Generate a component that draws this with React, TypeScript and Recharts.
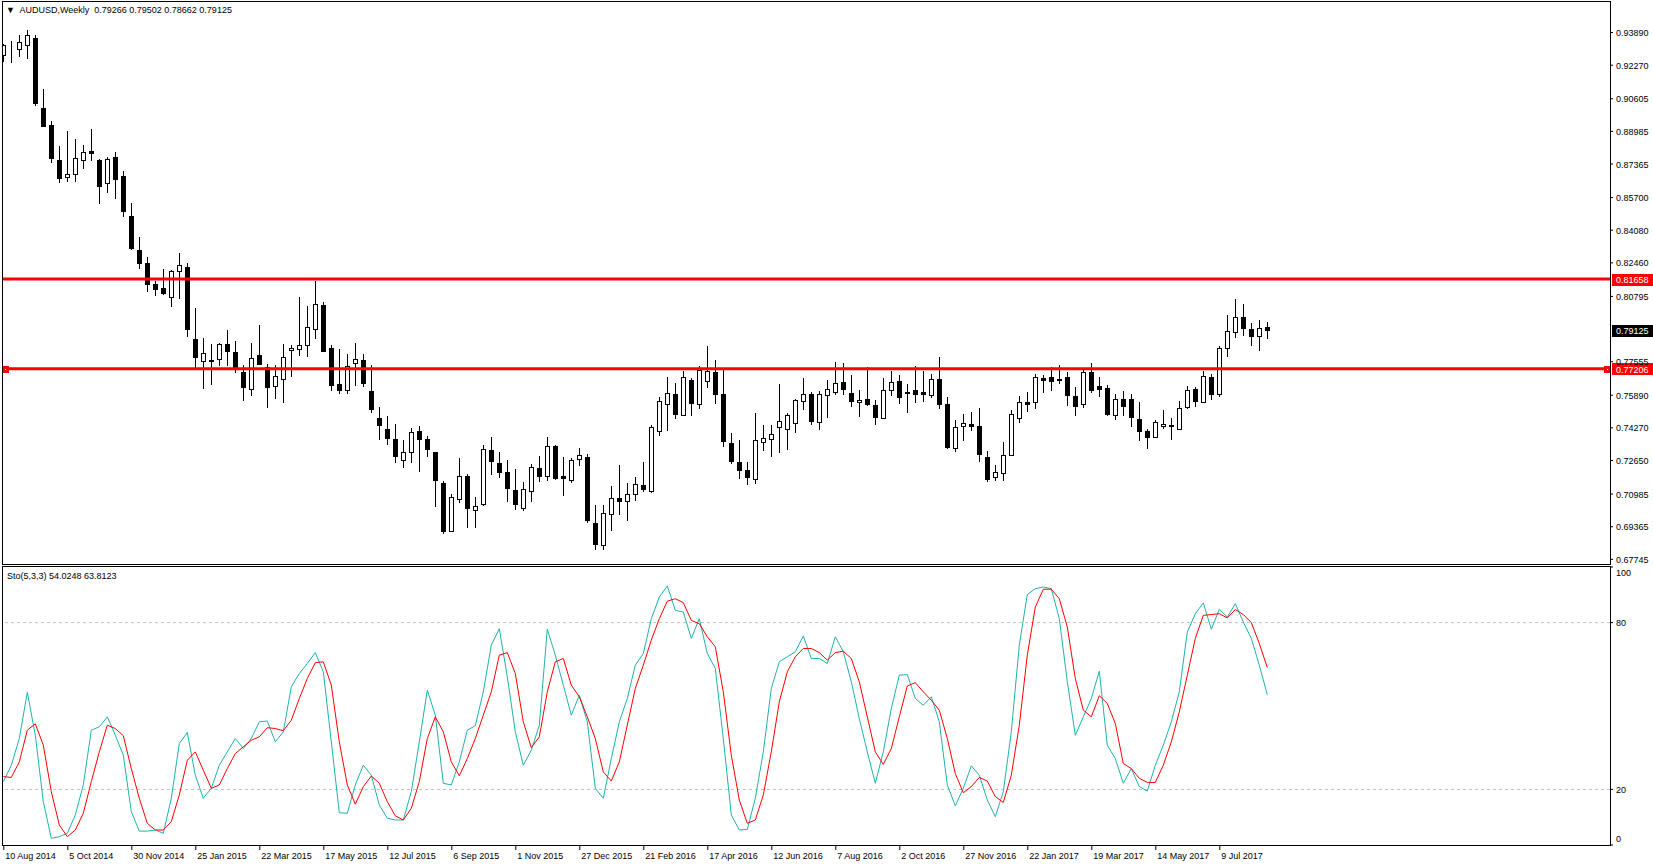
import { Bar, ComposedChart, Line, LineChart, ReferenceLine, XAxis, YAxis } from 'recharts';

// AUDUSD weekly candles (one entry per week from 10 Aug 2014)
const opens = [
  0.9277, 0.9313, 0.9305, 0.9325, 0.9364, 0.9012, 0.8928, 0.8754, 0.867, 0.8685,
  0.8754, 0.8799, 0.8754, 0.8644, 0.8771, 0.8677, 0.8477, 0.8308, 0.8244, 0.814,
  0.812, 0.8075, 0.8204, 0.8224, 0.7867, 0.7761, 0.7761, 0.7767, 0.7842, 0.7802,
  0.7703, 0.7619, 0.7787, 0.7731, 0.7637, 0.7668, 0.7812, 0.7817, 0.7837, 0.7916,
  0.8035, 0.7822, 0.7643, 0.7617, 0.7748, 0.7762, 0.7609, 0.7475, 0.742, 0.7371,
  0.7267, 0.7306, 0.741, 0.7371, 0.7306, 0.7152, 0.6913, 0.7076, 0.719, 0.7018,
  0.7048, 0.7316, 0.7252, 0.7207, 0.7118, 0.7028, 0.7116, 0.7228, 0.7187, 0.7336,
  0.7189, 0.7167, 0.7271, 0.7283, 0.6956, 0.6845, 0.7, 0.7078, 0.7066, 0.7098,
  0.7144, 0.7114, 0.7409, 0.7544, 0.7594, 0.7493, 0.7663, 0.7544, 0.7658, 0.7704,
  0.7595, 0.7353, 0.726, 0.7218, 0.7172, 0.7359, 0.7371, 0.743, 0.742, 0.745,
  0.7559, 0.7594, 0.7455, 0.7589, 0.7605, 0.7653, 0.7599, 0.7554, 0.7569, 0.7539,
  0.7478, 0.7614, 0.7658, 0.7604, 0.7615, 0.7604, 0.7592, 0.767, 0.7546, 0.7326,
  0.7435, 0.7447, 0.7437, 0.7281, 0.7182, 0.7202, 0.729, 0.7478, 0.7556, 0.7554,
  0.7675, 0.7678, 0.767, 0.768, 0.7584, 0.7544, 0.7703, 0.7634, 0.7624, 0.749,
  0.7569, 0.7569, 0.747, 0.7412, 0.7384, 0.7435, 0.7442, 0.742, 0.7529, 0.762,
  0.7557, 0.7681, 0.7597, 0.7822, 0.7901, 0.7979, 0.7916, 0.7885, 0.79266,
];
const highs = [
  0.9334, 0.9348, 0.9376, 0.9401, 0.9376, 0.9111, 0.8949, 0.8825, 0.89, 0.886,
  0.8829, 0.891, 0.8759, 0.8772, 0.8796, 0.8701, 0.8541, 0.8373, 0.8273, 0.8156,
  0.8216, 0.8211, 0.8293, 0.8244, 0.802, 0.7872, 0.7842, 0.7848, 0.7913, 0.7858,
  0.7739, 0.7847, 0.7936, 0.7743, 0.7738, 0.7842, 0.7837, 0.8075, 0.8032, 0.8156,
  0.805, 0.7839, 0.7819, 0.7794, 0.7847, 0.7794, 0.7738, 0.7529, 0.7486, 0.7447,
  0.7367, 0.7425, 0.7437, 0.7387, 0.7306, 0.7161, 0.7098, 0.7278, 0.7197, 0.7084,
  0.7342, 0.7382, 0.7308, 0.7268, 0.7224, 0.7159, 0.7248, 0.7285, 0.7382, 0.7341,
  0.7281, 0.7278, 0.7328, 0.7298, 0.7045, 0.7045, 0.7139, 0.7243, 0.7152, 0.7184,
  0.7258, 0.7442, 0.7581, 0.768, 0.765, 0.7711, 0.7675, 0.7733, 0.7834, 0.7764,
  0.772, 0.7402, 0.7367, 0.726, 0.7501, 0.7442, 0.7442, 0.7645, 0.75, 0.7571,
  0.7675, 0.7605, 0.7609, 0.7665, 0.7754, 0.7748, 0.769, 0.7615, 0.7728, 0.7566,
  0.7675, 0.771, 0.7688, 0.7645, 0.7734, 0.7711, 0.7695, 0.7777, 0.7582, 0.7467,
  0.7496, 0.7506, 0.7526, 0.7313, 0.7243, 0.7357, 0.7516, 0.7586, 0.7605, 0.7695,
  0.7688, 0.7729, 0.7739, 0.7705, 0.7629, 0.7715, 0.7748, 0.7678, 0.764, 0.7596,
  0.761, 0.7596, 0.7554, 0.7422, 0.7467, 0.7516, 0.7476, 0.756, 0.7634, 0.7632,
  0.7711, 0.7695, 0.7834, 0.7987, 0.8065, 0.8042, 0.7946, 0.7963, 0.79502,
];
const lows = [
  0.9244, 0.9236, 0.9269, 0.926, 0.9025, 0.8918, 0.8743, 0.864, 0.8648, 0.8648,
  0.8713, 0.8753, 0.854, 0.8591, 0.8564, 0.8475, 0.831, 0.8214, 0.8103, 0.8083,
  0.8087, 0.8029, 0.8065, 0.7877, 0.7723, 0.7622, 0.764, 0.7734, 0.7734, 0.7701,
  0.7558, 0.7587, 0.7739, 0.7528, 0.7572, 0.7548, 0.7677, 0.7786, 0.7781, 0.787,
  0.7805, 0.7612, 0.7594, 0.7597, 0.7637, 0.7629, 0.7503, 0.7369, 0.7343, 0.7255,
  0.723, 0.7255, 0.721, 0.728, 0.7032, 0.6901, 0.6908, 0.7056, 0.6932, 0.6932,
  0.7037, 0.7195, 0.7176, 0.7061, 0.7017, 0.7012, 0.7061, 0.7156, 0.7164, 0.7166,
  0.7091, 0.7151, 0.724, 0.6957, 0.6822, 0.6822, 0.6913, 0.6995, 0.6967, 0.7066,
  0.7111, 0.7106, 0.7389, 0.7409, 0.7473, 0.749, 0.7488, 0.7523, 0.7627, 0.7543,
  0.7334, 0.7248, 0.7172, 0.7141, 0.7149, 0.731, 0.728, 0.73, 0.7318, 0.7404,
  0.7516, 0.7439, 0.7414, 0.7478, 0.7592, 0.7592, 0.7533, 0.7483, 0.7538, 0.7439,
  0.7473, 0.7587, 0.7546, 0.7503, 0.7549, 0.7553, 0.7577, 0.7521, 0.7323, 0.7305,
  0.7364, 0.7409, 0.726, 0.7156, 0.7161, 0.7161, 0.7285, 0.7453, 0.7506, 0.7523,
  0.7602, 0.7612, 0.7647, 0.7538, 0.7488, 0.7528, 0.7602, 0.7582, 0.7488, 0.7467,
  0.7488, 0.7433, 0.7364, 0.7324, 0.7379, 0.7419, 0.7369, 0.7417, 0.7519, 0.7533,
  0.7552, 0.7567, 0.7582, 0.7781, 0.7875, 0.7885, 0.7835, 0.7807, 0.78662,
];
const closes = [
  0.9326, 0.931, 0.934, 0.9379, 0.904, 0.8926, 0.8764, 0.8668, 0.8685, 0.8764,
  0.8794, 0.8792, 0.8629, 0.8759, 0.8663, 0.8505, 0.8321, 0.8247, 0.814, 0.8118,
  0.8095, 0.8204, 0.8234, 0.7916, 0.7781, 0.7797, 0.7764, 0.7842, 0.781, 0.7721,
  0.7632, 0.7772, 0.7744, 0.7629, 0.7683, 0.7777, 0.7822, 0.7837, 0.7926, 0.804,
  0.781, 0.7642, 0.7617, 0.7733, 0.7767, 0.7652, 0.7523, 0.7439, 0.7379, 0.7285,
  0.7306, 0.7405, 0.7371, 0.7324, 0.7166, 0.6913, 0.7083, 0.7189, 0.7027, 0.7038,
  0.7321, 0.7265, 0.721, 0.7131, 0.7047, 0.7123, 0.7232, 0.719, 0.7336, 0.718,
  0.7177, 0.7266, 0.7291, 0.6971, 0.6853, 0.7004, 0.7078, 0.7066, 0.7099, 0.7149,
  0.7126, 0.743, 0.7559, 0.7599, 0.7498, 0.7678, 0.7548, 0.7715, 0.7709, 0.7597,
  0.7364, 0.7265, 0.7218, 0.7182, 0.7366, 0.7376, 0.7396, 0.746, 0.749, 0.7564,
  0.7594, 0.7463, 0.7594, 0.7619, 0.7648, 0.7622, 0.7559, 0.7564, 0.7543, 0.7483,
  0.7614, 0.7653, 0.7582, 0.7602, 0.7595, 0.7595, 0.767, 0.7543, 0.7334, 0.7432,
  0.745, 0.7438, 0.7296, 0.7172, 0.721, 0.7293, 0.7495, 0.7554, 0.7543, 0.7678,
  0.7667, 0.7662, 0.7663, 0.7592, 0.7538, 0.7703, 0.7617, 0.7622, 0.7498, 0.7569,
  0.7538, 0.7483, 0.7409, 0.7384, 0.7455, 0.7445, 0.7435, 0.7524, 0.7615, 0.7562,
  0.7683, 0.7597, 0.7822, 0.791, 0.7979, 0.7924, 0.7885, 0.7921, 0.79125,
];

// Stochastic (5,3,3): main line and signal line
const stochMain = [
  22.8, 28.7, 38.3, 54.9, 39.5, 15.6, 2.4, 3.0, 4.2, 10.8,
  21.6, 41.3, 42.5, 46.1, 39.5, 32.3, 12.0, 5.0, 5.0, 5.4,
  4.2, 16.8, 36.5, 40.5, 25.1, 16.8, 20.4, 28.7, 33.5, 38.3,
  34.7, 38.3, 44.3, 44.6, 37.1, 40.7, 56.9, 61.7, 65.3, 69.2,
  62.3, 37.1, 11.6, 11.4, 21.6, 28.7, 25.1, 14.4, 9.6, 9.0,
  9.0, 19.2, 37.1, 55.7, 46.7, 22.2, 21.6, 29.9, 41.3, 42.9,
  55.1, 71.9, 77.8, 60.5, 40.7, 28.7, 34.1, 43.1, 77.6, 68.3,
  57.5, 46.7, 53.9, 44.3, 20.4, 16.8, 31.1, 44.3, 52.7, 64.7,
  68.9, 81.4, 89.2, 93.2, 84.4, 83.8, 74.3, 81.4, 68.9, 63.5,
  38.3, 10.8, 5.4, 5.6, 16.8, 33.5, 56.3, 65.9, 67.7, 69.5,
  75.2, 67.1, 67.1, 65.3, 74.9, 69.5, 58.7, 45.5, 33.5, 22.2,
  33.5, 49.1, 61.1, 61.3, 52.7, 50.3, 53.3, 44.3, 21.6, 14.1,
  20.4, 28.5, 25.1, 16.2, 10.2, 19.2, 40.7, 71.9, 90.1, 92.2,
  92.8, 92.2, 81.4, 58.7, 39.5, 46.1, 52.7, 62.5, 35.9, 31.1,
  22.2, 27.5, 21.0, 19.4, 28.7, 35.9, 44.3, 55.1, 76.6, 83.2,
  87.1, 77.6, 84.8, 82.0, 86.8, 80.2, 74.3, 64.7, 54.0248,
];
const stochSignal = [
  24.6, 24.3, 29.9, 41.3, 43.6, 35.9, 19.2, 7.2, 3.0, 5.4,
  11.4, 22.8, 33.5, 43.1, 41.9, 39.3, 27.5, 16.8, 7.8, 5.4,
  5.4, 8.4, 18.0, 30.5, 33.5, 26.9, 20.4, 21.6, 27.5, 32.9,
  35.3, 37.7, 38.9, 42.2, 41.9, 41.1, 44.9, 52.7, 59.9, 65.6,
  65.9, 57.5, 37.1, 21.6, 14.7, 21.0, 24.8, 22.2, 15.6, 10.5,
  9.0, 13.2, 22.8, 38.3, 46.1, 40.7, 29.9, 24.9, 31.1, 38.3,
  46.7, 55.1, 68.3, 69.2, 61.7, 44.3, 35.0, 38.9, 55.1, 65.9,
  67.1, 57.5, 53.3, 46.1, 38.3, 26.3, 23.0, 29.9, 43.1, 56.3,
  64.7, 73.7, 81.4, 87.7, 88.6, 87.2, 80.8, 79.6, 74.9, 71.3,
  55.1, 32.3, 16.2, 7.8, 9.0, 18.0, 33.5, 51.5, 62.3, 67.7,
  70.7, 70.7, 69.2, 66.5, 69.2, 69.7, 67.1, 58.7, 46.1, 33.5,
  29.0, 34.7, 46.1, 57.2, 58.4, 55.1, 52.1, 48.5, 38.3, 25.7,
  18.8, 21.0, 24.3, 23.0, 17.4, 15.3, 25.1, 43.1, 68.3, 85.6,
  92.0, 92.0, 88.6, 78.4, 59.9, 48.5, 46.1, 53.7, 50.9, 43.7,
  29.3, 27.5, 24.0, 22.5, 22.5, 28.7, 37.1, 47.9, 61.1, 74.3,
  82.6, 82.9, 83.2, 81.7, 84.7, 82.9, 80.0, 72.5, 63.8123,
];

// date labels, one every 8 weeks
const dateLabels = [
  '10 Aug 2014', '5 Oct 2014', '30 Nov 2014', '25 Jan 2015', '22 Mar 2015',
  '17 May 2015', '12 Jul 2015', '6 Sep 2015', '1 Nov 2015', '27 Dec 2015',
  '21 Feb 2016', '17 Apr 2016', '12 Jun 2016', '7 Aug 2016', '2 Oct 2016',
  '27 Nov 2016', '22 Jan 2017', '19 Mar 2017', '14 May 2017', '9 Jul 2017',
];
const priceTicks = [
  0.9389, 0.9227, 0.90605, 0.88985, 0.87365, 0.857, 0.8408, 0.8246, 0.80795,
  0.77555, 0.7589, 0.7427, 0.7265, 0.70985, 0.69365, 0.67745,
];
const stochTicks = [0, 20, 80, 100];
const levelPrices = [0.81658, 0.77206];
const lastPrice = 0.79125;

const WEEKS_PER_LABEL = 8;
const PLOT_RIGHT = 1610;
const STOCH_TOP = 1; // plot top inside the lower chart
const STOCH_BOTTOM = 279; // plot bottom inside the lower chart
const X_DOMAIN: [number, number] = [-0.1625, 200.8375];
const FONT = '"Liberation Sans", Arial, sans-serif';
const TEAL = '#20B2AA';

const candles = opens.map((open, i) => ({
  idx: i,
  range: [lows[i], highs[i]],
  open,
  high: highs[i],
  low: lows[i],
  close: closes[i],
}));

const stoch = stochMain.map((k, i) => ({ idx: i, k, d: stochSignal[i] }));

const Candle = (props: any) => {
  const { x, y, width, height, payload } = props;
  if (!payload) return null;
  const { open, close, high, low } = payload;
  const top = Math.min(y, y + height);
  const bottom = Math.max(y, y + height);
  const toY = (p: number) => top + ((high - p) / (high - low)) * (bottom - top);
  const px = Math.round(x + width / 2);
  const yo = Math.round(toY(open));
  const yc = Math.round(toY(close));
  const bodyTop = Math.min(yo, yc);
  const bodyH = Math.abs(yo - yc);
  const bull = close >= open;
  return (
    <g shapeRendering='crispEdges'>
      <line x1={px + 0.5} x2={px + 0.5} y1={Math.round(top)} y2={Math.round(bottom)} stroke='#000' />
      <rect
        x={px - 1.5}
        y={bodyTop + 0.5}
        width={4}
        height={bodyH}
        fill={bull ? '#fff' : '#000'}
        stroke='#000'
      />
    </g>
  );
};

const PriceTick = (props: any) => {
  const { y, payload } = props;
  return (
    <g>
      <line x1={PLOT_RIGHT} x2={PLOT_RIGHT + 3} y1={y} y2={y} stroke='#000' />
      <text x={PLOT_RIGHT + 6} y={y + 3.5} fontSize={9} fontFamily={FONT} fill='#000'>
        {payload.value.toFixed(5)}
      </text>
    </g>
  );
};

const StochTick = (props: any) => {
  const { y, payload } = props;
  // keep the 0 and 100 labels inside the panel
  const ty = Math.min(Math.max(y, STOCH_TOP + 5), STOCH_BOTTOM - 7);
  return (
    <g>
      <line x1={PLOT_RIGHT} x2={PLOT_RIGHT + 3} y1={y} y2={y} stroke='#000' />
      <text x={PLOT_RIGHT + 6} y={ty + 3.5} fontSize={9} fontFamily={FONT} fill='#000'>
        {payload.value}
      </text>
    </g>
  );
};

const DateTick = (props: any) => {
  const { x, y, payload } = props;
  const label = dateLabels[payload.value / WEEKS_PER_LABEL];
  return (
    <g>
      <line x1={x + 0.5} x2={x + 0.5} y1={y} y2={y + 5} stroke='#000' />
      <text x={x + 2} y={y + 14} fontSize={9} fontFamily={FONT} fill='#000'>
        {label}
      </text>
    </g>
  );
};

const priceTag = (text: string, fill: string, marker: boolean) => (props: any) => {
  const vb = props.viewBox || {};
  const y = vb.y;
  const right = vb.x + vb.width;
  return (
    <g shapeRendering='crispEdges'>
      {marker && (
        <>
          <rect x={vb.x} y={y - 3} width={7} height={7} fill='#ff0000' />
          <rect x={vb.x + 3} y={y} width={1} height={1} fill='#fff' />
          <rect x={right - 6} y={y - 3} width={7} height={7} fill='#ff0000' />
          <rect x={right - 3} y={y} width={1} height={1} fill='#fff' />
        </>
      )}
      <rect x={right + 2} y={y - 5.5} width={41} height={12} fill={fill} />
      <text x={right + 6} y={y + 4} fontSize={9} fontFamily={FONT} fill='#fff'>
        {text}
      </text>
    </g>
  );
};

const frame = (top: number, height: number) => ({
  position: 'absolute' as const,
  left: 2,
  top,
  width: PLOT_RIGHT - 1,
  height,
  border: '1px solid #000',
  boxSizing: 'border-box' as const,
  pointerEvents: 'none' as const,
});

export default function App() {
  return (
    <div
      style={{
        position: 'fixed',
        left: 0,
        top: 0,
        width: 1653,
        height: 866,
        background: '#fff',
        fontFamily: FONT,
        overflow: 'hidden',
      }}
    >
      <div style={{ position: 'absolute', left: 0, top: 0 }}>
        <ComposedChart
          width={1653}
          height={566}
          data={candles}
          margin={{ top: 1, right: 0, bottom: 2, left: 2 }}
        >
          <XAxis dataKey='idx' type='number' domain={X_DOMAIN} allowDataOverflow hide />
          <YAxis
            orientation='right'
            width={43}
            domain={[0.67514, 0.95455]}
            allowDataOverflow
            ticks={priceTicks}
            interval={0}
            axisLine={false}
            tickLine={false}
            tick={<PriceTick />}
          />
          <Bar dataKey='range' barSize={5} shape={<Candle />} isAnimationActive={false} />
          <ReferenceLine
            y={levelPrices[0]}
            stroke='#ff0000'
            strokeWidth={3}
            label={priceTag(levelPrices[0].toFixed(5), '#ff0000', false)}
          />
          <ReferenceLine
            y={levelPrices[1]}
            stroke='#ff0000'
            strokeWidth={3}
            label={priceTag(levelPrices[1].toFixed(5), '#ff0000', true)}
          />
          <ReferenceLine
            y={lastPrice}
            stroke='none'
            label={priceTag(lastPrice.toFixed(5), '#000', false)}
          />
        </ComposedChart>
      </div>

      <div style={{ position: 'absolute', left: 0, top: 566 }}>
        <LineChart
          width={1653}
          height={300}
          data={stoch}
          margin={{ top: STOCH_TOP, right: 0, bottom: 0, left: 2 }}
        >
          <XAxis
            dataKey='idx'
            type='number'
            domain={X_DOMAIN}
            allowDataOverflow
            ticks={dateLabels.map((_, j) => j * WEEKS_PER_LABEL)}
            interval={0}
            height={21}
            axisLine={false}
            tickLine={false}
            tickSize={0}
            tickMargin={0}
            tick={<DateTick />}
          />
          <YAxis
            orientation='right'
            width={43}
            domain={[0, 100]}
            ticks={stochTicks}
            interval={0}
            axisLine={false}
            tickLine={false}
            tick={<StochTick />}
          />
          <ReferenceLine y={80} stroke='#c0c0c0' strokeDasharray='3 3' />
          <ReferenceLine y={20} stroke='#c0c0c0' strokeDasharray='3 3' />
          <Line
            dataKey='k'
            stroke={TEAL}
            strokeWidth={1}
            dot={false}
            isAnimationActive={false}
          />
          <Line
            dataKey='d'
            stroke='#ff0000'
            strokeWidth={1}
            dot={false}
            isAnimationActive={false}
          />
        </LineChart>
      </div>

      <div style={frame(1, 564)} />
      <div style={frame(566, 280)} />

      <div
        style={{
          position: 'absolute',
          left: 6,
          top: 4,
          fontSize: 9,
          whiteSpace: 'pre',
          lineHeight: '12px',
          color: '#000',
        }}
      >
        {'\u25BC  AUDUSD,Weekly  0.79266 0.79502 0.78662 0.79125'}
      </div>
      <div
        style={{
          position: 'absolute',
          left: 7,
          top: 570,
          fontSize: 9,
          whiteSpace: 'pre',
          lineHeight: '12px',
          color: '#000',
        }}
      >
        {'Sto(5,3,3) 54.0248 63.8123'}
      </div>
    </div>
  );
}
